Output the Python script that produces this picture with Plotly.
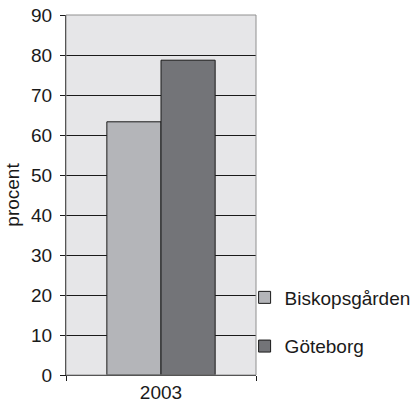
import plotly.graph_objects as go

categories = ["2003"]
series_names = ["Biskopsgården", "Göteborg"]
biskopsgarden = [63.3]
goteborg = [78.7]
colors = ["#b4b5b9", "#737478"]

fig = go.Figure()
for name, vals, col in zip(series_names, [biskopsgarden, goteborg], colors):
    fig.add_trace(go.Bar(x=categories, y=vals, name=name, marker=dict(color=col, line=dict(color="#1a1a1a", width=1)),
                         legendgroup=name))

font = dict(family="Liberation Sans, Arial, sans-serif", size=19, color="#1a1a1a")
fig.update_layout(
    width=418, height=409,
    margin=dict(l=66, r=162, t=15, b=34, autoexpand=False),
    paper_bgcolor="white", plot_bgcolor="#e6e6e8",
    font=font,
    barmode="group", bargap=0.43, bargroupgap=0,
    showlegend=True,
    legend=dict(x=0.94, xanchor="left", y=0.268, yanchor="top", font=font,
                tracegroupgap=21, bgcolor="rgba(0,0,0,0)", itemwidth=30),
    xaxis=dict(type="category", showline=True, linecolor="#1a1a1a", linewidth=1, automargin=False,
               ticks="outside", tickson="boundaries", ticklen=5, tickcolor="#1a1a1a",
               showgrid=False, tickfont=font),
    yaxis=dict(range=[0, 90], dtick=10, showline=True, linecolor="#1a1a1a", linewidth=1, automargin=False,
               ticks="outside", ticklen=5, tickcolor="#1a1a1a", ticklabelstandoff=4,
               showgrid=True, gridcolor="#1a1a1a", gridwidth=1, zeroline=False,
               title=dict(text="procent", font=font, standoff=6), tickfont=font),
    shapes=[dict(type="rect", xref="paper", yref="paper", x0=0, x1=1, y0=0, y1=1,
                 line=dict(color="#909090", width=1), layer="above")],
)
fig.write_html("out.html", config={"displayModeBar": False},
               post_script="document.body.style.margin='0';document.body.style.overflow='hidden';")
